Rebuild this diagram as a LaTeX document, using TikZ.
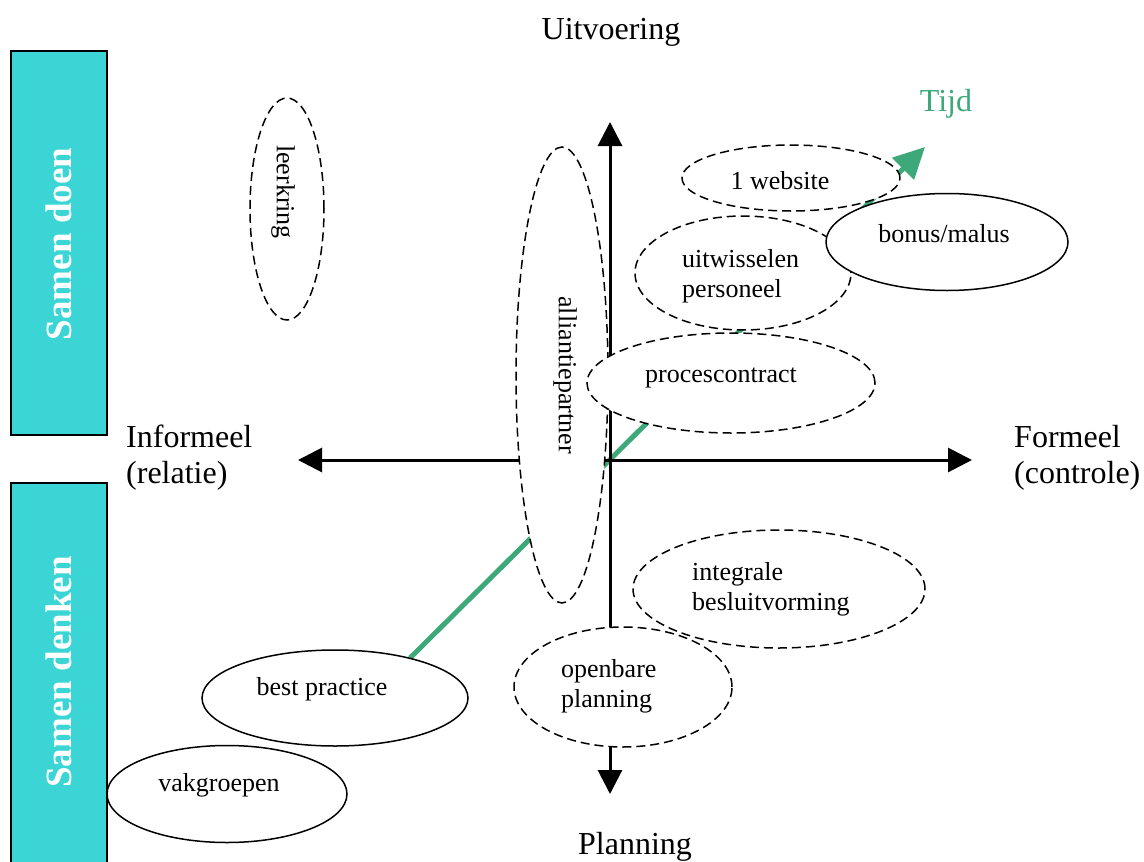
\documentclass[tikz,border=0pt]{standalone}
\usepackage{fontspec}
\setmainfont{Liberation Serif}
\usetikzlibrary{arrows.meta,shapes.geometric}
\definecolor{sideteal}{RGB}{59,213,213}
\definecolor{tijdgreen}{RGB}{61,168,122}
\begin{document}
\begin{tikzpicture}[x=1pt,y=-1pt,
  ell/.style={ellipse, draw=black, fill=white, line width=1.5pt, inner sep=0pt},
  dell/.style={ell, dash pattern=on 9pt off 5pt},
  lbl/.style={font=\fontsize{26}{30}\selectfont, inner sep=0pt, align=left},
  biglbl/.style={font=\fontsize{32}{36}\selectfont, inner sep=0pt, align=left},
  sidebox/.style={draw=black, line width=1.5pt, fill=sideteal},
  sidetxt/.style={font=\fontsize{37}{40}\selectfont\bfseries, text=white, rotate=90, inner sep=0pt},
  axisline/.style={line width=3pt, {Triangle[length=24pt,width=24pt]}-{Triangle[length=24pt,width=24pt]}},
  tijdline/.style={line width=5pt, draw=tijdgreen, -{Triangle[length=31pt,width=30pt]}}
]
\useasboundingbox (0,0) rectangle (1144,862);

% side boxes
\begin{scope}
\clip (0,0) rectangle (1144,862);
\node[sidebox, minimum width=96pt, minimum height=384pt, inner sep=0pt] (doenbox) at (59,243) {};
\node[sidebox, minimum width=96pt, minimum height=400pt, inner sep=0pt] (denkbox) at (59,683) {};
\end{scope}
\node[sidetxt] (doentxt) at (59,244) {Samen doen};
\node[sidetxt] (denktxt) at (59,672) {Samen denken};

% coordinates
\coordinate (tstart) at (410,658);
\coordinate (ttip) at (925,147);
\coordinate (vtop) at (610,122);
\coordinate (vbot) at (610,794);
\coordinate (hleft) at (298,460);
\coordinate (hright) at (972,460);

% time arrow and axes
\draw[tijdline] (tstart) -- (ttip);
\draw[axisline] (vbot) -- (vtop);
\draw[axisline] (hleft) -- (hright);

% ellipses
\node[dell, minimum width=74pt, minimum height=222pt] (leer) at (287,209) {};
\node[dell, minimum width=92pt, minimum height=456pt] (alli) at (562,375) {};
\node[dell, minimum width=218pt, minimum height=66pt] (web) at (791,178) {};
\node[dell, minimum width=216pt, minimum height=114pt] (uit) at (743,273) {};
\node[dell, minimum width=288pt, minimum height=100pt] (proc) at (731,383) {};
\node[ell, minimum width=242pt, minimum height=97pt] (bonus) at (947,242) {};
\node[dell, minimum width=218pt, minimum height=120pt] (open) at (623,687) {};
\node[dell, minimum width=292pt, minimum height=118pt] (integ) at (779,589) {};
\node[ell, minimum width=266pt, minimum height=96pt] (best) at (335,698) {};
\node[ell, minimum width=240pt, minimum height=97pt] (vak) at (227,794) {};

% ellipse texts
\node[lbl, rotate=-90] (leertxt) at (283,192) {leerkring};
\node[lbl, rotate=-90] (allitxt) at (565,375) {alliantiepartner};
\node[lbl] (webtxt) at (780,181) {1 website};
\node[lbl, anchor=west] (uittxt) at (682,276) {uitwisselen\\personeel};
\node[lbl] (bonustxt) at (944,234) {bonus/malus};
\node[lbl] (proctxt) at (721,378) {procescontract};
\node[lbl, anchor=west] (integtxt) at (692,589) {integrale\\besluitvorming};
\node[lbl, anchor=west] (opentxt) at (561,686) {openbare\\planning};
\node[lbl] (besttxt) at (322,689) {best practice};
\node[lbl] (vaktxt) at (219,785) {vakgroepen};

% axis labels
\node[biglbl] (uitv) at (611,32) {Uitvoering};
\node[biglbl] (plan) at (635,847) {Planning};
\node[biglbl, anchor=west] (inf) at (126,458) {Informeel\\(relatie)};
\node[biglbl, anchor=west] (form) at (1014,458) {Formeel\\(controle)};
\node[biglbl, text=tijdgreen] (tijd) at (946,104) {Tijd};
\end{tikzpicture}
\end{document}
